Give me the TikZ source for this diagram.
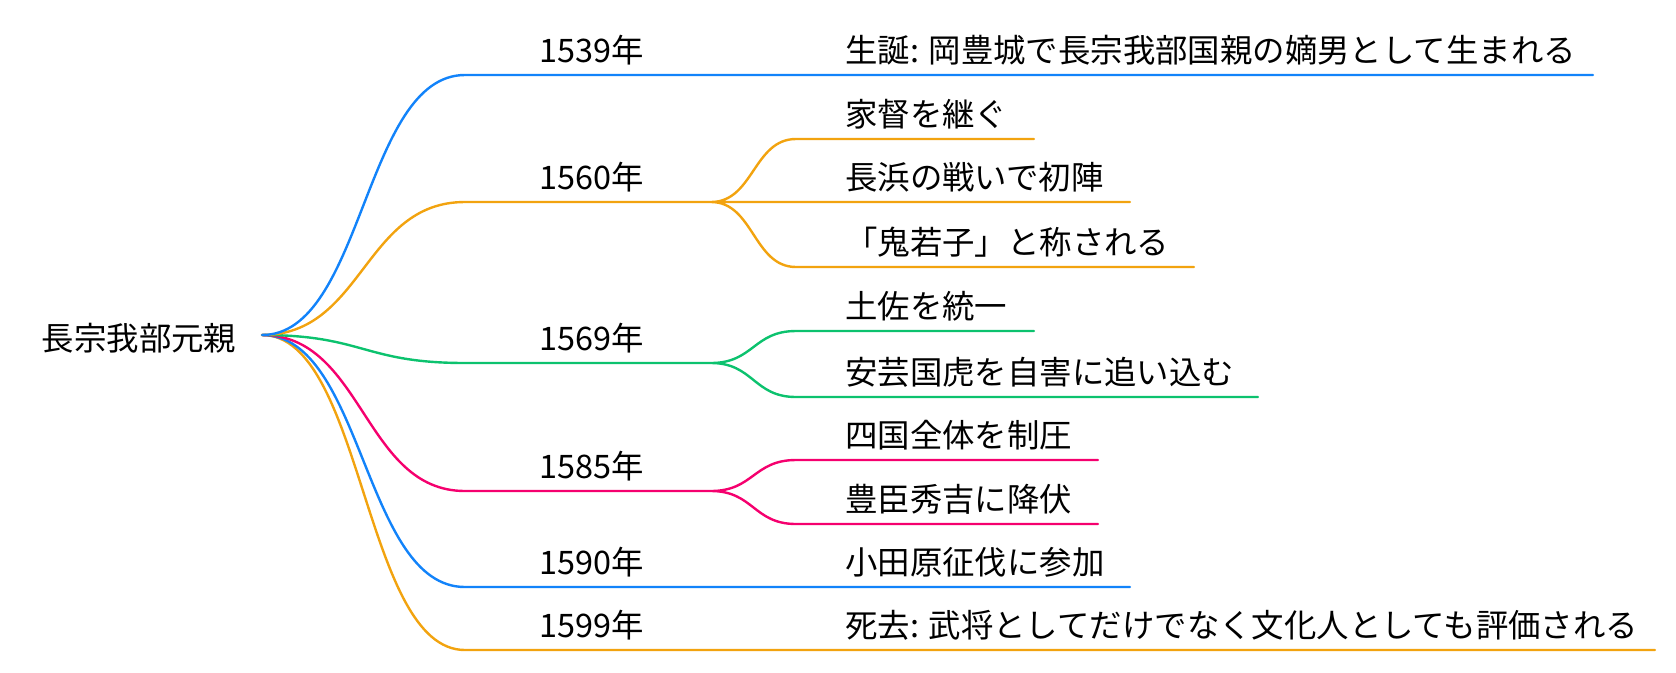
\documentclass[tikz,border=0pt]{standalone}
\usepackage{fontspec}
\setmainfont{Noto Sans CJK JP}
\definecolor{mmblue}{HTML}{1283FA}
\definecolor{mmorange}{HTML}{F2A30F}
\definecolor{mmgreen}{HTML}{0CC26E}
\definecolor{mmpink}{HTML}{F5006E}

\begin{document}
\begin{tikzpicture}[x=0.75pt,y=-0.75pt,
	txt/.style={font=\fontsize{24.3}{29}\selectfont,inner sep=0pt},
	yr/.style={txt,anchor=center},
	item/.style={txt,anchor=west},
	branch/.style={line width=1.8pt,line cap=round},
	link/.style={to path={.. controls +(#1,0) and +(-#1,0) .. (\tikztotarget)}}]
	  \useasboundingbox (0,0) rectangle (1676,672);

	  % root
	  \node[txt] (root) at (139,338) {長宗我部元親};
	  \coordinate (r) at (262,335);

	  % years
	  \coordinate (a1539) at (465,75);  \coordinate (b1539) at (711,75);
	  \coordinate (a1560) at (465,202); \coordinate (b1560) at (711,202);
	  \coordinate (a1569) at (465,363); \coordinate (b1569) at (711,363);
	  \coordinate (a1585) at (465,491); \coordinate (b1585) at (711,491);
	  \coordinate (a1590) at (465,587); \coordinate (b1590) at (711,587);
	  \coordinate (a1599) at (465,650); \coordinate (b1599) at (711,650);
	  \node[yr] (n1539) at (592,50)  {1539年};
	  \node[yr] (n1560) at (592,177) {1560年};
	  \node[yr] (n1569) at (592,338) {1569年};
	  \node[yr] (n1585) at (592,466) {1585年};
	  \node[yr] (n1590) at (592,562) {1590年};
	  \node[yr] (n1599) at (592,625) {1599年};

	  % events
	  \coordinate (c1539) at (796,75);   \coordinate (d1539) at (1593,75);
	  \coordinate (c1560a) at (796,139); \coordinate (d1560a) at (1034,139);
	  \coordinate (c1560b) at (796,202); \coordinate (d1560b) at (1130,202);
	  \coordinate (c1560c) at (796,267); \coordinate (d1560c) at (1194,267);
	  \coordinate (c1569a) at (796,331); \coordinate (d1569a) at (1034,331);
	  \coordinate (c1569b) at (796,397); \coordinate (d1569b) at (1258,397);
	  \coordinate (c1585a) at (796,460); \coordinate (d1585a) at (1098,460);
	  \coordinate (c1585b) at (796,524); \coordinate (d1585b) at (1098,524);
	  \coordinate (c1590) at (796,587);  \coordinate (d1590) at (1130,587);
	  \coordinate (c1599) at (796,650);  \coordinate (d1599) at (1655,650);
	  \node[item] (e1539) at (845,50)   {生誕: 岡豊城で長宗我部国親の嫡男として生まれる};
	  \node[item] (e1560a) at (845,114) {家督を継ぐ};
	  \node[item] (e1560b) at (845,177) {長浜の戦いで初陣};
	  \node[item] (e1560c) at (845,242) {「鬼若子」と称される};
	  \node[item] (e1569a) at (845,306) {土佐を統一};
	  \node[item] (e1569b) at (845,372) {安芸国虎を自害に追い込む};
	  \node[item] (e1585a) at (845,435) {四国全体を制圧};
	  \node[item] (e1585b) at (845,499) {豊臣秀吉に降伏};
	  \node[item] (e1590) at (845,562)  {小田原征伐に参加};
	  \node[item] (e1599) at (845,625)  {死去: 武将としてだけでなく文化人としても評価される};

	  \draw[branch,mmorange] (r) to[link=101.5] (a1599) -- (b1599) to[link=42.5] (c1599) -- (d1599);
	  \draw[branch,mmblue] (r) to[link=101.5] (a1590) -- (b1590) to[link=42.5] (c1590) -- (d1590);
	  \draw[branch,mmpink] (r) to[link=101.5] (a1585) -- (b1585)
	    (b1585) to[link=42.5] (c1585a) -- (d1585a)
	    (b1585) to[link=42.5] (c1585b) -- (d1585b);
	  \draw[branch,mmgreen] (r) to[link=101.5] (a1569) -- (b1569)
	    (b1569) to[link=42.5] (c1569a) -- (d1569a)
	    (b1569) to[link=42.5] (c1569b) -- (d1569b);
	  \draw[branch,mmorange] (r) to[link=101.5] (a1560) -- (b1560)
	    (b1560) to[link=42.5] (c1560a) -- (d1560a)
	    (b1560) to[link=42.5] (c1560b) -- (d1560b)
	    (b1560) to[link=42.5] (c1560c) -- (d1560c);
	  \draw[branch,mmblue] (r) to[link=101.5] (a1539) -- (b1539) to[link=42.5] (c1539) -- (d1539);
\end{tikzpicture}
\end{document}
